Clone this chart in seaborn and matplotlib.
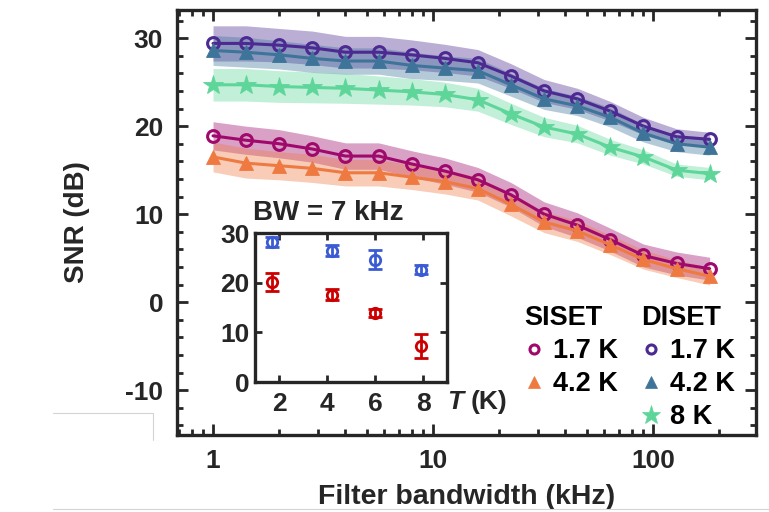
import matplotlib
matplotlib.use("Agg")
import matplotlib.pyplot as plt
from matplotlib.lines import Line2D
from matplotlib.ticker import MultipleLocator, LogLocator, NullFormatter
import numpy as np
import pandas as pd
import seaborn as sns

# Filter bandwidth (kHz)
bandwidth = [1, 1.41, 2, 2.83, 4, 5.66, 8, 11.3, 16, 22.6, 32, 45.3, 64, 90.5, 128, 181]

# SNR (dB) vs bandwidth
siset_17 = [18.9, 18.4, 18.0, 17.4, 16.6, 16.6, 15.7, 14.9, 13.9, 12.2, 10.0, 8.75, 7.1, 5.3, 4.4, 3.8]
siset_42 = [16.5, 15.8, 15.5, 15.2, 14.7, 14.7, 14.2, 13.7, 12.9, 11.1, 9.1, 8.1, 6.5, 4.85, 3.8, 2.95]
diset_17 = [29.4, 29.4, 29.2, 28.9, 28.4, 28.4, 28.1, 27.7, 27.2, 25.7, 24.0, 23.1, 21.7, 20.0, 18.8, 18.5]
diset_42 = [28.6, 28.4, 28.1, 27.7, 27.4, 27.4, 26.9, 26.6, 26.3, 24.7, 23.1, 22.3, 21.0, 19.2, 18.0, 17.6]
diset_8 = [24.7, 24.7, 24.5, 24.4, 24.3, 24.1, 23.9, 23.6, 23.0, 21.4, 19.9, 19.1, 17.6, 16.5, 15.0, 14.6]

# half-width of the uncertainty band (dB)
siset_17_sd = [1.6, 1.6, 1.6, 1.5, 1.5, 1.5, 1.5, 1.5, 1.4, 1.4, 1.4, 1.4, 1.3, 1.3, 1.3, 1.3]
siset_42_sd = [1.7, 1.7, 1.6, 1.6, 1.5, 1.5, 1.4, 1.4, 1.3, 1.3, 1.2, 1.2, 1.1, 1.1, 1.0, 1.0]
diset_17_sd = [2.0, 2.0, 1.9, 1.9, 1.8, 1.8, 1.7, 1.6, 1.5, 1.4, 1.3, 1.2, 1.1, 1.0, 0.9, 0.8]
diset_42_sd = [1.7, 1.7, 1.6, 1.6, 1.5, 1.5, 1.5, 1.4, 1.4, 1.3, 1.2, 1.1, 1.1, 1.0, 0.9, 0.9]
diset_8_sd = [1.85, 1.85, 1.8, 1.75, 1.7, 1.6, 1.5, 1.4, 1.3, 1.2, 1.1, 1.0, 0.9, 0.8, 0.7, 0.7]

# Inset: SNR at BW = 7 kHz vs temperature
inset_T = [1.7, 4.2, 6.0, 7.9]
inset_diset = [28.2, 26.4, 24.6, 22.6]
inset_diset_err = [1.0, 1.1, 1.9, 0.9]
inset_siset = [20.1, 17.6, 13.9, 7.2]
inset_siset_err = [1.75, 1.15, 0.9, 2.4]

sns.set_theme(style="ticks")
plt.rcParams["font.family"] = ["Liberation Sans", "DejaVu Sans"]
plt.rcParams["font.weight"] = "bold"
plt.rcParams["axes.labelweight"] = "bold"
plt.rcParams["axes.unicode_minus"] = False

INK = "#262626"
C_S17 = "#a0096c"
C_S42 = "#ee7a42"
C_D17 = "#4c2a92"
C_D42 = "#3e7499"
C_D8 = "#5ed69a"

fig = plt.figure(figsize=(7.69, 5.12), dpi=100)
ax = fig.add_axes([0.2302, 0.1504, 0.7529, 0.8301])

series = [
    ("SISET", "1.7 K", siset_17, siset_17_sd, C_S17, "o", 8.5),
    ("SISET", "4.2 K", siset_42, siset_42_sd, C_S42, "^", 10),
    ("DISET", "1.7 K", diset_17, diset_17_sd, C_D17, "o", 8.5),
    ("DISET", "4.2 K", diset_42, diset_42_sd, C_D42, "^", 10),
    ("DISET", "8 K", diset_8, diset_8_sd, C_D8, "*", 15),
]

x = np.array(bandwidth)
for dev, lab, y, sd, c, m, ms in series:
    y = np.array(y)
    sd = np.array(sd)
    ax.fill_between(x, y - sd, y + sd, color=c, alpha=0.38, lw=0, zorder=1)

for dev, lab, y, sd, c, m, ms in series:
    df = pd.DataFrame({"bw": bandwidth, "snr": y})
    open_marker = m == "o"
    sns.lineplot(data=df, x="bw", y="snr", ax=ax, color=c, lw=2.2,
                 marker=m, markersize=ms,
                 markerfacecolor="white" if open_marker else c,
                 markeredgecolor=c, markeredgewidth=2.2 if open_marker else 0.6,
                 zorder=3)
    if open_marker:
        ax.lines[-1].set_markerfacecolor("none")

ax.set_xscale("log")
ax.set_xlim(0.686, 294)
ax.set_ylim(-15.1, 33.2)
ax.set_xticks([1, 10, 100])
ax.set_xticklabels(["1", "10", "100"])
ax.xaxis.set_minor_locator(LogLocator(base=10, subs=np.arange(2, 10)))
ax.xaxis.set_minor_formatter(NullFormatter())
ax.set_yticks([-10, 0, 10, 20, 30])
ax.yaxis.set_minor_locator(MultipleLocator(2))
ax.tick_params(which="both", direction="in", top=True, right=True, color=INK,
               labelcolor=INK, labelsize=19, width=2)
ax.tick_params(which="major", length=8, pad=10)
ax.tick_params(which="minor", length=4)
for s in ax.spines.values():
    s.set_linewidth(2.4)
    s.set_color(INK)
ax.set_xlabel("Filter bandwidth (kHz)", fontsize=20.5, color=INK, labelpad=8)
ax.set_ylabel("SNR (dB)", fontsize=20, color=INK, labelpad=25)
for t in ax.get_xticklabels() + ax.get_yticklabels():
    t.set_fontweight("bold")

# Legends
def handle(c, m, ms):
    open_marker = m == "o"
    return Line2D([], [], ls="none", marker=m, markersize=ms,
                  markerfacecolor="none" if open_marker else c,
                  markeredgecolor=c, markeredgewidth=2.2 if open_marker else 0.5)

leg_kw = dict(frameon=False, handlelength=0.7, handletextpad=0.35, labelspacing=0.26,
              borderpad=0, borderaxespad=0, alignment="left",
              prop={"weight": "bold", "size": 19.5},
              title_fontproperties={"weight": "bold", "size": 19.5})
h1 = [handle(C_S17, "o", 6.5), handle(C_S42, "^", 8)]
leg1 = ax.legend(h1, ["1.7 K", "4.2 K"], title="SISET", loc="upper left",
                 bbox_to_anchor=(0.600, 0.305), **leg_kw)
ax.add_artist(leg1)
h2 = [handle(C_D17, "o", 6.5), handle(C_D42, "^", 8), handle(C_D8, "*", 14)]
leg2 = ax.legend(h2, ["1.7 K", "4.2 K", "8 K"], title="DISET", loc="upper left",
                 bbox_to_anchor=(0.802, 0.305), **leg_kw)
for lg in (leg1, leg2):
    for t in lg.get_texts():
        t.set_color("black")
    lg.get_title().set_color("black")

# Inset
axi = fig.add_axes([0.3316, 0.2539, 0.2497, 0.2910])
axi.errorbar(inset_T, inset_diset, yerr=inset_diset_err, fmt="o", color="#3b5bd4",
             mfc="none", mec="#3b5bd4", ms=7.5, mew=2, elinewidth=2, capsize=5,
             capthick=2, zorder=3, clip_on=False)
axi.errorbar(inset_T, inset_siset, yerr=inset_siset_err, fmt="o", color="#cc0000",
             mfc="none", mec="#cc0000", ms=7.5, mew=2, elinewidth=2, capsize=5,
             capthick=2, zorder=3, clip_on=False)
axi.set_xlim(1, 9)
axi.set_ylim(0, 30)
axi.set_xticks([2, 4, 6, 8])
axi.set_yticks([0, 10, 20, 30])
axi.tick_params(which="both", direction="in", top=True, right=True, color=INK,
                labelcolor=INK, labelsize=19, width=2, length=5)
axi.tick_params(axis="x", pad=7)
axi.tick_params(axis="y", pad=4)
for t in axi.get_xticklabels() + axi.get_yticklabels():
    t.set_fontweight("bold")
for s in axi.spines.values():
    s.set_linewidth(2.4)
    s.set_color(INK)
axi.text(-0.01, 1.05, "BW = 7 kHz", transform=axi.transAxes, fontsize=20,
         fontweight="bold", color=INK, ha="left", va="bottom")
axi.annotate("T", xy=(1.0, -0.134), xycoords="axes fraction", fontsize=19,
             fontweight="bold", fontstyle="italic", color=INK, ha="left", va="center")
axi.annotate("(K)", xy=(1.0, -0.134), xycoords="axes fraction", xytext=(17, 0),
             textcoords="offset points", fontsize=19, fontweight="bold",
             color=INK, ha="left", va="center")

# thin frame remnants at the figure edge
gray = "#d4d4d4"
fig.add_artist(Line2D([53 / 769, 153 / 769], [1 - 413 / 512, 1 - 413 / 512],
                      transform=fig.transFigure, color=gray, lw=0.8))
fig.add_artist(Line2D([153 / 769, 153 / 769], [1 - 413 / 512, 1 - 440 / 512],
                      transform=fig.transFigure, color=gray, lw=0.8))
fig.add_artist(Line2D([53 / 769, 1.0], [1 - 508.5 / 512, 1 - 508.5 / 512],
                      transform=fig.transFigure, color=gray, lw=0.8))

fig.savefig("out.png", dpi=100)
